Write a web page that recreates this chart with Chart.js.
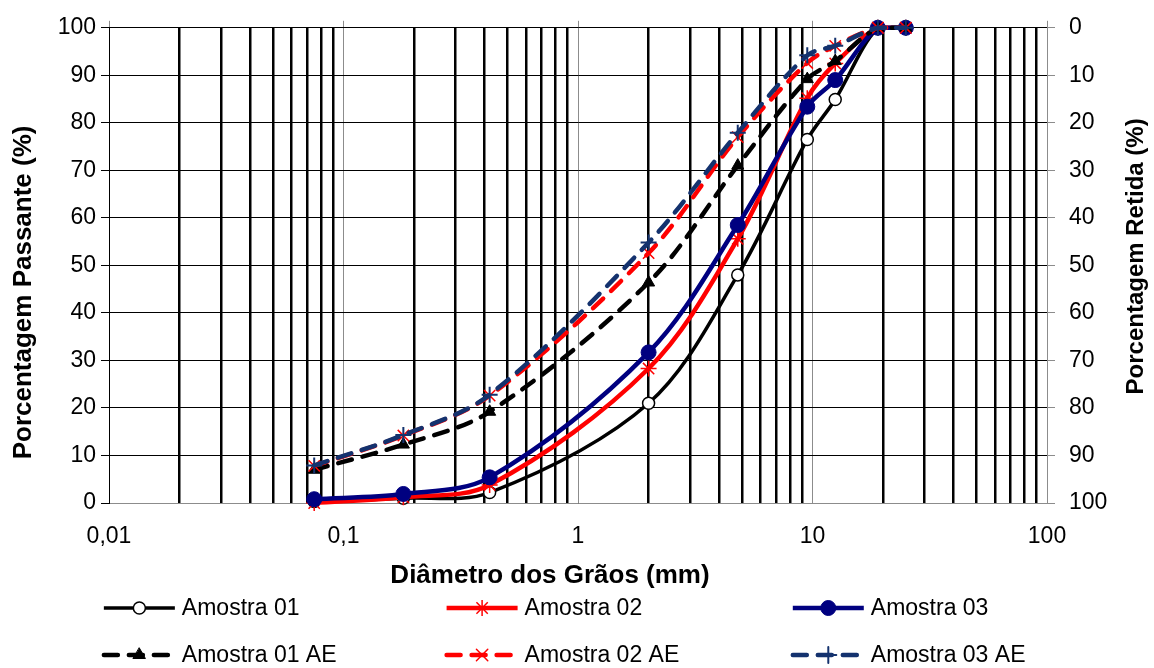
<!DOCTYPE html>
<html>
<head>
<meta charset="utf-8">
<script src="https://cdn.jsdelivr.net/npm/chart.js@4.4.1/dist/chart.umd.min.js"></script>
<style>
  body { margin: 0; background: #fff; }
  #wrap { width: 1154px; height: 668px; position: relative; }
</style>
</head>
<body>
<div id="wrap"><canvas id="myChart"></canvas></div>
<script>
// sieve openings (mm)
const sieves = [0.075, 0.18, 0.42, 2.0, 4.8, 9.5, 12.5, 19, 25];

// % passing for each sample
const amostra01   = [0.3, 1.0, 2.2, 21.0, 48.0, 76.5, 84.9, 100, 100];
const amostra02   = [0.0, 1.2, 3.8, 28.3, 55.6, 85.2, 92.5, 100, 100];
const amostra03   = [0.8, 1.9, 5.4, 31.7, 58.5, 83.4, 89.0, 100, 100];
const amostra01AE = [7.0, 12.3, 19.2, 46.4, 71.0, 89.2, 93.0, 100, 100];
const amostra02AE = [7.8, 14.2, 22.6, 52.6, 77.0, 92.6, 96.2, 100, 100];
const amostra03AE = [7.9, 14.3, 22.8, 54.8, 77.9, 94.2, 96.2, 100, 100];

const seriesNames = ['Amostra 01', 'Amostra 02', 'Amostra 03',
                     'Amostra 01 AE', 'Amostra 02 AE', 'Amostra 03 AE'];
const xTickLabels = ['0,01', '0,1', '1', '10', '100'];

const xTitle = 'Diâmetro dos Grãos (mm)';
const leftTitle = 'Porcentagem Passante (%)';
const rightTitle = 'Porcentagem Retida (%)';

const FONT = '"Liberation Sans", Arial, sans-serif';
Chart.defaults.font.family = FONT;
Chart.defaults.color = '#000';

function pts(values) {
    return sieves.map((s, i) => ({x: s, y: values[i]}));
}

const styles = [
    {color: '#000000', width: 3.5, dash: [], point: 'circle', radius: 6, fill: '#ffffff', pw: 1.5},
    {color: '#ff0000', width: 4.5, dash: [], point: 'star', radius: 8, fill: '#ff0000', pw: 1.5},
    {color: '#000080', width: 4.5, dash: [], point: 'circle', radius: 7.5, fill: '#000080', pw: 1},
    {color: '#000000', width: 4.5, dash: [14, 11], point: 'triangle', radius: 7, fill: '#000000', pw: 1},
    {color: '#ff0000', width: 4.5, dash: [14, 11], point: 'crossRot', radius: 8, fill: '#ff0000', pw: 1.5},
    {color: '#14326e', width: 4.5, dash: [14, 11], point: 'cross', radius: 8, fill: '#14326e', pw: 2}
];

const allValues = [amostra01, amostra02, amostra03, amostra01AE, amostra02AE, amostra03AE];

const datasets = allValues.map((vals, i) => {
    const st = styles[i];
    return {
        label: seriesNames[i],
        data: pts(vals),
        borderColor: st.color,
        backgroundColor: st.fill,
        borderWidth: st.width,
        borderDash: st.dash,
        borderCapStyle: st.dash.length ? 'round' : 'butt',
        pointStyle: st.point,
        pointRadius: st.radius,
        pointBackgroundColor: st.fill,
        pointBorderColor: st.color,
        pointBorderWidth: st.pw,
        tension: 0.33,
        clip: false,
        order: allValues.length - i
    };
});

// gridlines at 1..9 x each decade
function logGridValues() {
    const out = [];
    for (let e = -2; e <= 1; e++) {
        for (let m = 1; m <= 9; m++) out.push(m * Math.pow(10, e));
    }
    out.push(100);
    return out;
}

function isDecade(v) {
    const l = Math.log10(v);
    return Math.abs(l - Math.round(l)) < 1e-9;
}

function drawTitle(ctx, text, x, y, rot, size) {
    ctx.save();
    ctx.translate(x, y);
    ctx.rotate(rot);
    ctx.font = 'bold ' + size + 'px ' + FONT;
    ctx.fillStyle = '#000';
    ctx.textAlign = 'center';
    ctx.textBaseline = 'middle';
    ctx.fillText(text, 0, 0);
    ctx.restore();
}

const extras = {
    id: 'extras',
    afterDraw(chart) {
        const ctx = chart.ctx;
        const area = chart.chartArea;
        const midY = (area.top + area.bottom) / 2;
        const midX = (area.left + area.right) / 2;

        // axis titles
        drawTitle(ctx, xTitle, midX - 28, area.bottom + 73, 0, 26);
        drawTitle(ctx, leftTitle, chart.scales.y.left + 24, midY + 27, -Math.PI / 2, 26);
        drawTitle(ctx, rightTitle, chart.scales.yRight.right - 18, midY - 9, -Math.PI / 2, 24);

        // legend, 3 columns x 2 rows
        const cols = [0.09, 0.387, 0.687];
        const rows = [chart.height - 60, chart.height - 13];
        chart.data.datasets.forEach((ds, i) => {
            const x0 = chart.width * cols[i % 3];
            const y = rows[Math.floor(i / 3)];
            const len = 71;
            ctx.save();
            ctx.strokeStyle = ds.borderColor;
            ctx.lineWidth = ds.borderWidth;
            ctx.setLineDash(ds.borderDash);
            ctx.lineCap = ds.borderCapStyle;
            ctx.beginPath();
            ctx.moveTo(x0, y);
            ctx.lineTo(x0 + len, y);
            ctx.stroke();
            ctx.setLineDash([]);
            ctx.fillStyle = ds.pointBackgroundColor;
            ctx.strokeStyle = ds.pointBorderColor;
            ctx.lineWidth = ds.pointBorderWidth;
            Chart.helpers.drawPoint(ctx, {
                pointStyle: ds.pointStyle,
                radius: ds.pointRadius,
                rotation: 0,
                borderWidth: ds.pointBorderWidth
            }, x0 + len / 2, y);
            ctx.font = '23px ' + FONT;
            ctx.fillStyle = '#000';
            ctx.textAlign = 'left';
            ctx.textBaseline = 'middle';
            ctx.fillText(ds.label, x0 + len + 7, y + 1);
            ctx.restore();
        });
    }
};

const ctx = document.getElementById('myChart').getContext('2d');
const myChart = new Chart(ctx, {
    type: 'line',
    data: {datasets: datasets},
    plugins: [extras],
    options: {
        responsive: true,
        maintainAspectRatio: false,
        animation: false,
        layout: {padding: {top: 19, bottom: 75, left: 0, right: 0}},
        plugins: {
            legend: {display: false},
            tooltip: {enabled: false}
        },
        scales: {
            x: {
                type: 'logarithmic',
                min: 0.01,
                max: 100,
                afterBuildTicks: s => { s.ticks = logGridValues().map(v => ({value: v})); },
                afterFit: s => { s.height = 90; },
                grid: {
                    drawTicks: false,
                    color: c => isDecade(c.tick.value) ? '#8c8c8c' : '#000000',
                    lineWidth: c => isDecade(c.tick.value) ? 1 : 2.5
                },
                border: {display: true, color: '#8c8c8c', width: 1},
                ticks: {
                    autoSkip: false,
                    maxRotation: 0,
                    padding: 20,
                    font: {size: 23},
                    callback: v => isDecade(v) ? xTickLabels[Math.round(Math.log10(v)) + 2] : ''
                }
            },
            xTop: {
                type: 'logarithmic',
                position: 'top',
                min: 0.01,
                max: 100,
                afterBuildTicks: s => { s.ticks = xTickLabels.map((t, i) => ({value: Math.pow(10, i - 2)})); },
                afterFit: s => { s.height = 7; },
                grid: {drawOnChartArea: false, color: '#8c8c8c', tickLength: 7},
                border: {display: false},
                ticks: {display: false}
            },
            y: {
                position: 'left',
                min: 0,
                max: 100,
                afterFit: s => { s.width = 109; },
                ticks: {stepSize: 10, padding: 5, font: {size: 23}},
                grid: {color: '#000', lineWidth: 1, tickLength: 8},
                border: {color: '#000', width: 1}
            },
            yRight: {
                position: 'right',
                reverse: true,
                min: 0,
                max: 100,
                afterFit: s => { s.width = 107; },
                ticks: {stepSize: 10, padding: 14, font: {size: 23}},
                grid: {drawOnChartArea: false, color: '#8c8c8c', tickLength: 8},
                border: {color: '#8c8c8c', width: 1}
            }
        }
    }
});
</script>
</body>
</html>
